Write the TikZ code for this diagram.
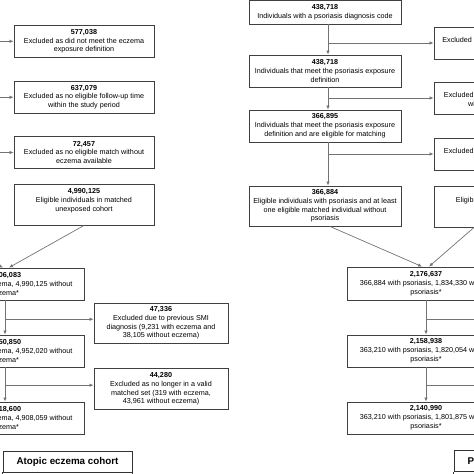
\documentclass[tikz,border=0pt]{standalone}
\usepackage{fontspec}
\setmainfont{Liberation Sans}
\usetikzlibrary{arrows.meta,positioning,calc}

\begin{document}
\begin{tikzpicture}[x=1pt,y=-1pt,
  box/.style={draw=black!75,line width=0.9pt,fill=white,align=center,inner sep=0pt,
    font=\fontsize{7.2}{8.8}\selectfont},
  conn/.style={draw=black!55,line width=0.7pt},
  arr/.style={conn,-{Latex[length=4pt,width=3.5pt]}},
  cohort/.style={draw=black!80,line width=0.9pt,inner sep=0pt,font=\fontsize{9.8}{11}\selectfont\bfseries}]
  \useasboundingbox (0,0) rectangle (474,474);
  \clip (0,0) rectangle (474,474);
  \node[box,minimum width=140pt,minimum height=32pt] (a1) at (84,41.3) {\textbf{577,038}\\Excluded as did not meet the eczema\\exposure definition};
  \node[box,minimum width=140pt,minimum height=32pt] (a2) at (84,97.2) {\textbf{637,079}\\Excluded as no eligible follow-up time\\within the study period};
  \node[box,minimum width=140pt,minimum height=32pt] (a3) at (84,152.5) {\textbf{72,457}\\Excluded as no eligible match without\\eczema available};
  \node[box,minimum width=140pt,minimum height=41pt] (a4) at (84,204.5) {\textbf{4,990,125}\\Eligible individuals in matched\\unexposed cohort\\\mbox{}};
  \node[box,minimum width=158pt,minimum height=32pt] (b1) at (5,284) {\textbf{6,006,083}\\1,015,958 with eczema, 4,990,125 without\\eczema*};
  \node[box,minimum width=158pt,minimum height=32pt] (b2) at (5,351) {\textbf{5,950,850}\\1,008,830 with eczema, 4,952,020 without\\eczema*};
  \node[box,minimum width=158pt,minimum height=32pt] (b3) at (5,418) {\textbf{5,918,600}\\1,010,541 with eczema, 4,908,059 without\\eczema*};
  \node[box,minimum width=134pt,minimum height=40pt] (c1) at (161,323) {\textbf{47,336}\\Excluded due to previous SMI\\diagnosis (9,231 with eczema and\\38,105 without eczema)};
  \node[box,minimum width=134pt,minimum height=41pt] (c2) at (161,389) {\textbf{44,280}\\Excluded as no longer in a valid\\matched set (319 with eczema,\\43,961 without eczema)};
  \node[box,minimum width=152pt,minimum height=23.5pt] (r1) at (325,12.25) {\textbf{438,718}\\Individuals with a psoriasis diagnosis code};
  \node[box,minimum width=152pt,minimum height=32pt] (r2) at (325,71) {\textbf{438,718}\\Individuals that meet the psoriasis exposure\\definition};
  \node[box,minimum width=152pt,minimum height=32pt] (r3) at (325,126) {\textbf{366,895}\\Individuals that meet the psoriasis exposure\\definition and are eligible for matching};
  \node[box,minimum width=152pt,minimum height=40pt] (r4) at (325,206) {\textbf{366,884}\\Eligible individuals with psoriasis and at least\\one eligible matched individual without\\psoriasis};
  \node[box,minimum width=140pt,minimum height=32pt] (d1) at (504,43) {\mbox{}\\Excluded as did not meet the psoriasis\\exposure definition};
  \node[box,minimum width=140pt,minimum height=32pt] (d2) at (504,98) {\mbox{}\\Excluded as no eligible follow-up time\\within the study period};
  \node[box,minimum width=140pt,minimum height=32pt] (d3) at (504,154) {\mbox{}\\Excluded as no eligible match without\\psoriasis available};
  \node[box,minimum width=140pt,minimum height=41pt] (d4) at (504,206.5) {\mbox{}\\Eligible individuals in matched\\unexposed cohort\\\mbox{}};
  \node[box,minimum width=158pt,minimum height=33pt] (r5) at (426,283.5) {\textbf{2,176,637}\\366,884 with psoriasis, 1,834,330 without\\psoriasis*};
  \node[box,minimum width=158pt,minimum height=32pt] (r6) at (426,351) {\textbf{2,158,938}\\363,210 with psoriasis, 1,820,054 without\\psoriasis*};
  \node[box,minimum width=158pt,minimum height=32pt] (r7) at (426,418) {\textbf{2,140,990}\\363,210 with psoriasis, 1,801,875 without\\psoriasis*};
  \node[cohort,minimum width=129pt,minimum height=21pt] (ec) at (67.5,461.5) {Atopic eczema cohort};
  \node[cohort,minimum width=104pt,minimum height=21pt] (pc) at (506,461) {Psoriasis cohort};
  \draw[draw=black!80,line width=0.9pt] (ec.south west) -- ++(0,10) (ec.south east) -- ++(0,10) (pc.south west) -- ++(0,10);

  \draw[arr] ([xshift=-106pt]a1.west) -- (a1.west);
  \draw[arr] ([xshift=-106pt]a2.west) -- (a2.west);
  \draw[arr] ([xshift=-106pt]a3.west) -- (a3.west);
  \draw[arr] ([xshift=-103pt]a4.south west) -- ([xshift=-2pt]b1.north);
  \draw[arr] (a4.south) -- ([xshift=4pt]b1.north);
  \draw[arr] (b1.south) -- (b2.north);
  \coordinate (bm1) at ($(b1.south)!0.55!(b2.north)$);
  \draw[arr] (bm1) -- (bm1 -| c1.west);
  \draw[arr] (b2.south) -- (b3.north);
  \coordinate (bm2) at ($(b2.south)!0.52!(b3.north)$);
  \draw[arr] (bm2) -- (bm2 -| c2.west);

  \coordinate (rsp) at ([xshift=3pt]r1.south);
  \draw[arr] (rsp) -- (rsp |- r2.north);
  \draw[arr] (rsp |- r2.south) -- (rsp |- r3.north);
  \draw[arr] (rsp |- r3.south) -- (rsp |- r4.north);
  \draw[arr] (rsp |- d1.west) -- (d1.west);
  \draw[arr] (rsp |- d2.west) -- (d2.west);
  \draw[arr] (rsp |- d3.west) -- (d3.west);
  \draw[arr] ([xshift=5pt]r4.south) -- ([xshift=-4pt]r5.north);
  \draw[arr] ([xshift=-30pt]d4.south) -- ([xshift=3pt]r5.north);
  \draw[arr] (r5.south) -- (r6.north);
  \coordinate (rm1) at ($(r5.south)!0.55!(r6.north)$);
  \draw[arr] (rm1) -- ++(80,0);
  \draw[arr] (r6.south) -- (r7.north);
  \coordinate (rm2) at ($(r6.south)!0.52!(r7.north)$);
  \draw[arr] (rm2) -- ++(80,0);
\end{tikzpicture}
\end{document}
